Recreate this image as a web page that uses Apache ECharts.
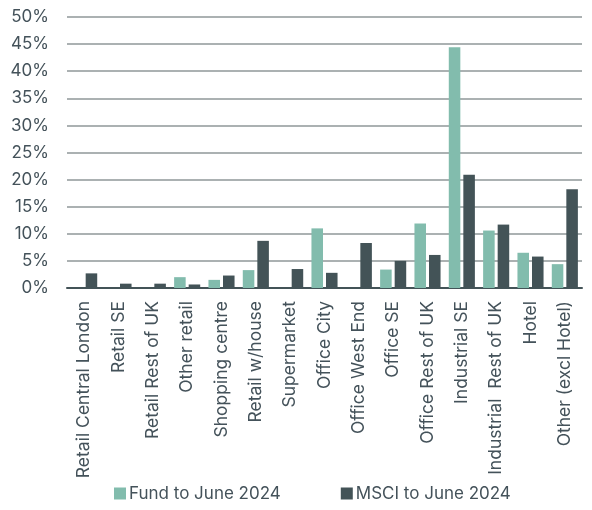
<!DOCTYPE html>
<html>
<head>
<meta charset="utf-8">
<script src="https://cdn.jsdelivr.net/npm/echarts@6/dist/echarts.min.js"></script>
<style>
  html, body { margin: 0; padding: 0; background: #fff; }
  #chart { width: 592px; height: 510px; }
</style>
</head>
<body>
<div id="chart"></div>
<script>
const categories = ['Retail Central London', 'Retail SE', 'Retail Rest of UK', 'Other retail',
  'Shopping centre', 'Retail w/house', 'Supermarket', 'Office City', 'Office West End',
  'Office SE', 'Office Rest of UK', 'Industrial SE', 'Industrial  Rest of UK', 'Hotel',
  'Other (excl Hotel)']
const fundValues = [0, 0, 0, 2.0, 1.5, 3.3, 0, 11.0, 0, 3.4, 11.9, 44.4, 10.6, 6.5, 4.4]
const msciValues = [2.7, 0.8, 0.8, 0.65, 2.3, 8.7, 3.5, 2.8, 8.3, 5.0, 6.1, 20.9, 11.7, 5.8, 18.2]

const textColor = '#44525a'
const font = 'Inter, Roboto, sans-serif'

const myChart = echarts.init(document.getElementById('chart'))
const option = {
  animation: false,
  color: ['#82bcad', '#435357'],
  legend: {
    bottom: 3,
    left: 109,
    itemWidth: 12,
    itemHeight: 12,
    itemGap: 60,
    icon: 'rect',
    textStyle: { color: textColor, fontSize: 17, fontFamily: font, padding: [0, 0, 0, -2] },
    data: ['Fund to June 2024', 'MSCI to June 2024']
  },
  grid: { left: 67, right: 10, top: 17, bottom: 222 },
  xAxis: {
    type: 'category',
    data: categories,
    axisTick: { show: false },
    axisLine: { lineStyle: { color: '#435357', width: 2 } },
    axisLabel: {
      rotate: 90,
      interval: 0,
      margin: 13,
      color: textColor,
      fontSize: 17.5,
      fontFamily: font
    }
  },
  yAxis: {
    type: 'value',
    min: 0,
    max: 50,
    interval: 5,
    axisLine: { show: false },
    axisTick: { show: false },
    axisLabel: {
      formatter: '{value}%',
      color: textColor,
      fontSize: 17,
      fontFamily: font,
      margin: 18
    },
    splitLine: { lineStyle: { color: '#8f9799', width: 1.5 } }
  },
  series: [
    {
      name: 'Fund to June 2024',
      type: 'bar',
      data: fundValues,
      barGap: '26%',
      barCategoryGap: '24%'
    },
    {
      name: 'MSCI to June 2024',
      type: 'bar',
      data: msciValues
    }
  ]
}
myChart.setOption(option)
</script>
</body>
</html>
